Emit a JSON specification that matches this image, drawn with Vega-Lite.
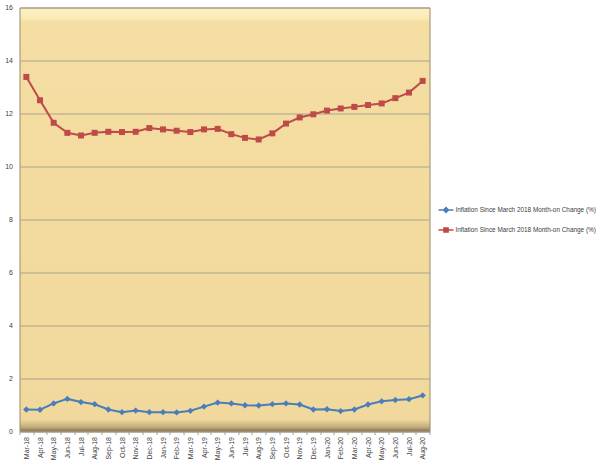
{
  "$schema": "https://vega.github.io/schema/vega-lite/v6.json",
  "autosize": "none",
  "width": 410,
  "height": 424,
  "padding": {"left": 19.5, "top": 7.5, "right": 172.5, "bottom": 31.5},
  "background": "white",
  "config": {
    "font": "Liberation Sans",
    "view": {
      "fill": {"gradient": "linear", "x1": 0, "y1": 0, "x2": 0, "y2": 1, "stops": [
        {"offset": 0, "color": "#fcf0c6"},
        {"offset": 0.025, "color": "#faeab4"},
        {"offset": 0.032, "color": "#f5dea3"},
        {"offset": 0.97, "color": "#f1d89c"},
        {"offset": 0.988, "color": "#c4ae80"},
        {"offset": 1, "color": "#7c6c50"}
      ]},
      "stroke": "#9a8a6a",
      "strokeWidth": 1
    }
  },
  "data": {"values": [
    {"month": "Mar-18", "series": "s1", "value": 0.83}, {"month": "Mar-18", "series": "s2", "value": 13.38},
    {"month": "Apr-18", "series": "s1", "value": 0.82}, {"month": "Apr-18", "series": "s2", "value": 12.50},
    {"month": "May-18", "series": "s1", "value": 1.06}, {"month": "May-18", "series": "s2", "value": 11.65},
    {"month": "Jun-18", "series": "s1", "value": 1.23}, {"month": "Jun-18", "series": "s2", "value": 11.27},
    {"month": "Jul-18", "series": "s1", "value": 1.11}, {"month": "Jul-18", "series": "s2", "value": 11.17},
    {"month": "Aug-18", "series": "s1", "value": 1.03}, {"month": "Aug-18", "series": "s2", "value": 11.27},
    {"month": "Sep-18", "series": "s1", "value": 0.83}, {"month": "Sep-18", "series": "s2", "value": 11.31},
    {"month": "Oct-18", "series": "s1", "value": 0.73}, {"month": "Oct-18", "series": "s2", "value": 11.30},
    {"month": "Nov-18", "series": "s1", "value": 0.79}, {"month": "Nov-18", "series": "s2", "value": 11.31},
    {"month": "Dec-18", "series": "s1", "value": 0.73}, {"month": "Dec-18", "series": "s2", "value": 11.45},
    {"month": "Jan-19", "series": "s1", "value": 0.73}, {"month": "Jan-19", "series": "s2", "value": 11.40},
    {"month": "Feb-19", "series": "s1", "value": 0.72}, {"month": "Feb-19", "series": "s2", "value": 11.35},
    {"month": "Mar-19", "series": "s1", "value": 0.78}, {"month": "Mar-19", "series": "s2", "value": 11.30},
    {"month": "Apr-19", "series": "s1", "value": 0.94}, {"month": "Apr-19", "series": "s2", "value": 11.40},
    {"month": "May-19", "series": "s1", "value": 1.09}, {"month": "May-19", "series": "s2", "value": 11.42},
    {"month": "Jun-19", "series": "s1", "value": 1.06}, {"month": "Jun-19", "series": "s2", "value": 11.22},
    {"month": "Jul-19", "series": "s1", "value": 0.99}, {"month": "Jul-19", "series": "s2", "value": 11.08},
    {"month": "Aug-19", "series": "s1", "value": 0.98}, {"month": "Aug-19", "series": "s2", "value": 11.02},
    {"month": "Sep-19", "series": "s1", "value": 1.03}, {"month": "Sep-19", "series": "s2", "value": 11.25},
    {"month": "Oct-19", "series": "s1", "value": 1.06}, {"month": "Oct-19", "series": "s2", "value": 11.62},
    {"month": "Nov-19", "series": "s1", "value": 1.02}, {"month": "Nov-19", "series": "s2", "value": 11.85},
    {"month": "Dec-19", "series": "s1", "value": 0.83}, {"month": "Dec-19", "series": "s2", "value": 11.97},
    {"month": "Jan-20", "series": "s1", "value": 0.84}, {"month": "Jan-20", "series": "s2", "value": 12.11},
    {"month": "Feb-20", "series": "s1", "value": 0.77}, {"month": "Feb-20", "series": "s2", "value": 12.19},
    {"month": "Mar-20", "series": "s1", "value": 0.83}, {"month": "Mar-20", "series": "s2", "value": 12.25},
    {"month": "Apr-20", "series": "s1", "value": 1.02}, {"month": "Apr-20", "series": "s2", "value": 12.32},
    {"month": "May-20", "series": "s1", "value": 1.14}, {"month": "May-20", "series": "s2", "value": 12.38},
    {"month": "Jun-20", "series": "s1", "value": 1.19}, {"month": "Jun-20", "series": "s2", "value": 12.58},
    {"month": "Jul-20", "series": "s1", "value": 1.22}, {"month": "Jul-20", "series": "s2", "value": 12.79},
    {"month": "Aug-20", "series": "s1", "value": 1.36}, {"month": "Aug-20", "series": "s2", "value": 13.23}
  ]},
  "encoding": {
    "x": {
      "field": "month", "type": "ordinal", "sort": null,
      "scale": {"type": "band", "paddingInner": 0, "paddingOuter": 0},
      "bandPosition": 0.5,
      "axis": {
        "title": null, "labelAngle": -90, "labelFontSize": 7, "labelColor": "#404040",
        "tickBand": "extent", "ticks": true, "tickSize": 3, "tickColor": "#a0a0a0",
        "domain": false, "grid": false, "labelPadding": 2
      }
    },
    "y": {
      "field": "value", "type": "quantitative",
      "scale": {"domain": [0, 16], "nice": false},
      "axis": {
        "title": null, "values": [0, 2, 4, 6, 8, 10, 12, 14, 16], "labelFontSize": 7,
        "labelColor": "#404040", "ticks": false, "domain": false,
        "gridColor": "#a9a48f", "gridWidth": 1, "labelPadding": 7
      }
    },
    "color": {
      "field": "series", "type": "nominal",
      "scale": {"domain": ["s1", "s2"], "range": ["#4a7ebb", "#be4b48"]},
      "legend": {
        "orient": "none", "legendX": 418, "legendY": 194, "title": null,
        "labelExpr": "'Inflation Since March 2018 Month-on Change (%)'",
        "labelFontSize": 6.4, "labelColor": "#404040", "labelOffset": 1,
        "rowPadding": 6, "symbolSize": 225, "symbolStrokeWidth": 1.5,
        "encode": {"symbols": {"update": {
          "shape": {"signal": "datum.value === 's1' ? 'M-1,0H1M0,-0.32L0.32,0L0,0.32L-0.32,0Z' : 'M-1,0H1M-0.28,-0.28H0.28V0.28H-0.28Z'"},
          "size": {"value": 225},
          "fill": {"scale": "color", "field": "value"},
          "stroke": {"scale": "color", "field": "value"},
          "strokeWidth": {"value": 1.5},
          "opacity": {"value": 1}
        }}}
      }
    }
  },
  "layer": [
    {"mark": {"type": "line", "strokeWidth": 2}},
    {
      "transform": [{"filter": "datum.series === 's1'"}],
      "mark": {"type": "point", "filled": true, "opacity": 1, "shape": "diamond", "size": 40}
    },
    {
      "transform": [{"filter": "datum.series === 's2'"}],
      "mark": {"type": "point", "filled": true, "opacity": 1, "shape": "square", "size": 36}
    }
  ]
}
